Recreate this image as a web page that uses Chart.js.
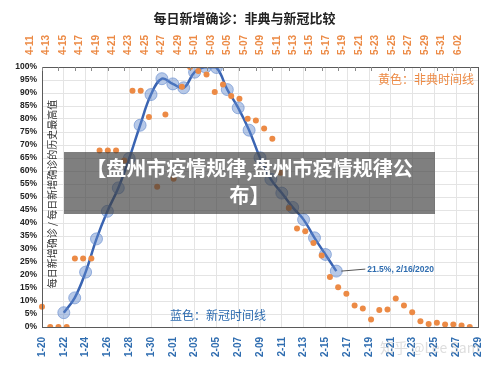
<!DOCTYPE html>
<html>
<head>
<meta charset="utf-8">
<script src="https://cdn.jsdelivr.net/npm/chart.js@4.4.1/dist/chart.umd.min.js"></script>
<style>
  html, body { margin: 0; padding: 0; background: #fff; }
  #wrap { position: relative; width: 500px; height: 368px; }
  #banner {
    position: absolute; left: 64px; top: 152px; width: 371px; height: 62px;
    box-sizing: border-box; padding-top: 2px;
    background: rgba(60, 60, 60, 0.66); color: #fff;
    font: bold 20px "Noto Sans CJK SC", sans-serif; line-height: 27px; text-align: center;
  }
  #mark {
    position: absolute; left: 380px; top: 337px;
    font: 14px "Noto Sans CJK SC", sans-serif; color: rgba(180, 180, 180, 0.45);
  }
</style>
</head>
<body>
<div id="wrap">
  <canvas id="chart" width="500" height="368"></canvas>
  <div id="banner">【盘州市疫情规律,盘州市疫情规律公<br>布】</div>
  <div id="mark">知乎 @Lee Sam</div>
</div>
<script>
const canvas = document.getElementById("chart");

// New coronavirus timeline (bottom axis)
const covidDays = [
  "1-20", "1-21", "1-22", "1-23", "1-24", "1-25", "1-26", "1-27", "1-28", "1-29", "1-30", "1-31",
  "2-01", "2-02", "2-03", "2-04", "2-05", "2-06", "2-07", "2-08", "2-09", "2-10", "2-11", "2-12",
  "2-13", "2-14", "2-15", "2-16", "2-17", "2-18", "2-19", "2-20", "2-21", "2-22", "2-23", "2-24",
  "2-25", "2-26", "2-27", "2-28", "2-29",
];
// daily new cases / historical max, in %
const covidValues = [
  null, null, 5.5, 11.2, 21.1, 33.9, 44.5, 53.5, 64.8, 77.6, 89.4, 95.5,
  93.5, 92, 98, 100, 99.8, 91.3, 84.3, 75.7, 65.1, 56.8, 51.5, 46,
  41.3, 34.3, 27.9, 21.5, null, null, null, null, null, null, null, null,
  null, null, null, null, null,
];

// SARS timeline (top axis)
const sarsDays = [
  "4-11", "4-12", "4-13", "4-14", "4-15", "4-16", "4-17", "4-18", "4-19", "4-20",
  "4-21", "4-22", "4-23", "4-24", "4-25", "4-26", "4-27", "4-28", "4-29", "4-30",
  "5-01", "5-02", "5-03", "5-04", "5-05", "5-06", "5-07", "5-08", "5-09", "5-10",
  "5-11", "5-12", "5-13", "5-14", "5-15", "5-16", "5-17", "5-18", "5-19", "5-20",
  "5-21", "5-22", "5-23", "5-24", "5-25", "5-26", "5-27", "5-28", "5-29", "5-30",
  "5-31", "6-01", "6-02", "6-03",
];
const sarsValues = [
  7.8, 0, 0, 0, 26.3, 26.3, 26.3, 67.9, 67.9, 67.9,
  64, 90.9, 90.9, 80.8, 53.9, 81.7, 57, 92.4, 100, 98.5,
  97.1, 90.4, 93.3, 88.8, 87.8, 80.1, 79.4, 76.3, 72.4, 59.3,
  45.8, 37.9, 36.8, 32.3, 27.5, 19.2, 15.3, 12.8, 8.3, 7.1,
  2.9, 6.5, 6.7, 11, 8.3, 5.7, 2.2, 1.2, 1.6, 1,
  1, 0.6, 0, null,
];

const BLUE = "#2F6DB0";
const ORANGE = "#EC8A45";
const CJK = '"Noto Sans CJK SC", sans-serif';
const NUM = '"Liberation Sans", Arial, sans-serif';

// frame, inward ticks on top, y title and the notes
const decorations = {
  id: "decorations",
  afterDatasetsDraw(chart) {
    const { ctx, chartArea: a, scales } = chart;
    ctx.save();

    ctx.strokeStyle = "#5a5a5a";
    ctx.lineWidth = 1;
    ctx.strokeRect(a.left + 0.5, a.top + 0.5, a.right - a.left, a.bottom - a.top);

    ctx.strokeStyle = "#8a8a8a";
    ctx.beginPath();
    for (let i = 0; i < sarsDays.length; i += 2) {
      const x = Math.round(scales.x2.getPixelForValue(i)) + 0.5;
      ctx.moveTo(x, a.top);
      ctx.lineTo(x, a.top + 4);
    }
    ctx.stroke();

    // y axis title, inside the plot
    ctx.save();
    ctx.translate(a.left + 10, (a.top + a.bottom) / 2 - 3);
    ctx.rotate(-Math.PI / 2);
    ctx.fillStyle = "#333";
    ctx.font = "10px " + CJK;
    ctx.textAlign = "center";
    ctx.textBaseline = "middle";
    ctx.fillText("每日新增确诊 / 每日新增确诊的历史最高值", 0, 0);
    ctx.restore();

    ctx.font = "12px " + CJK;
    ctx.textBaseline = "middle";
    ctx.fillStyle = ORANGE;
    ctx.textAlign = "right";
    ctx.fillText("黄色：非典时间线", a.right - 4, a.top + 12);
    ctx.fillStyle = BLUE;
    ctx.textAlign = "left";
    ctx.fillText("蓝色：新冠时间线", a.left + 128, a.bottom - 12);

    // callout on the last covid point
    let last = covidValues.length - 1;
    while (covidValues[last] == null) last--;
    const px = scales.x.getPixelForValue(last);
    const py = scales.y.getPixelForValue(covidValues[last]);
    ctx.strokeStyle = "#555";
    ctx.beginPath();
    ctx.moveTo(px + 5, py);
    ctx.lineTo(px + 29, py - 2);
    ctx.stroke();
    ctx.fillStyle = BLUE;
    ctx.font = "bold 8.5px " + NUM;
    ctx.fillText(covidValues[last] + "%, 2/16/2020", px + 31, py - 1);

    ctx.restore();
  },
};

new Chart(canvas, {
  type: "line",
  plugins: [decorations],
  data: {
    labels: covidDays,
    datasets: [
      {
        label: "非典",
        data: sarsValues,
        xAxisID: "x2",
        showLine: false,
        pointRadius: 3,
        pointBackgroundColor: ORANGE,
        pointBorderWidth: 0,
      },
      {
        label: "新冠",
        data: covidValues,
        xAxisID: "x",
        borderColor: "#3A64B2",
        borderWidth: 2.5,
        tension: 0.4,
        pointRadius: 6,
        pointBackgroundColor: "rgba(95, 135, 205, 0.45)",
        pointBorderColor: "rgba(95, 135, 205, 0.6)",
        pointBorderWidth: 1,
      },
    ],
  },
  options: {
    responsive: false,
    animation: false,
    layout: { padding: { left: 0, right: 11, top: 0, bottom: 0 } },
    plugins: {
      legend: { display: false },
      tooltip: { enabled: false },
      title: {
        display: true,
        text: "每日新增确诊：非典与新冠比较",
        color: "#222",
        font: { family: CJK, size: 13, weight: "bold" },
        padding: { top: 10, bottom: 0 },
      },
    },
    scales: {
      x: {
        type: "category",
        position: "bottom",
        labels: covidDays,
        offset: false,
        grid: {
          color: (c) => (c.index % 2 ? "rgba(0,0,0,0)" : "#e4e4e4"),
          drawTicks: false,
        },
        border: { display: false },
        ticks: {
          autoSkip: false,
          minRotation: 90,
          maxRotation: 90,
          padding: 10,
          color: BLUE,
          font: { family: NUM, size: 10, weight: "bold" },
          callback: (v, i) => (i % 2 ? "" : covidDays[i]),
        },
        afterFit: (s) => { s.height = 41; },
      },
      x2: {
        type: "category",
        position: "top",
        labels: sarsDays,
        offset: false,
        grid: { drawOnChartArea: false, drawTicks: false },
        border: { display: false },
        ticks: {
          autoSkip: false,
          minRotation: 90,
          maxRotation: 90,
          padding: 12,
          color: ORANGE,
          font: { family: NUM, size: 10, weight: "bold" },
          callback: (v, i) => (i % 2 ? "" : sarsDays[i]),
        },
        afterFit: (s) => { s.height = 41.4; },
      },
      y: {
        min: 0,
        max: 100,
        grid: { color: "#e4e4e4", drawTicks: false },
        border: { display: false },
        ticks: {
          stepSize: 5,
          autoSkip: false,
          padding: 5,
          color: "#222",
          font: { family: NUM, size: 8.5, weight: "bold" },
          callback: (v) => v + "%",
        },
        afterFit: (s) => { s.width = 42; },
      },
    },
  },
});
</script>
</body>
</html>
